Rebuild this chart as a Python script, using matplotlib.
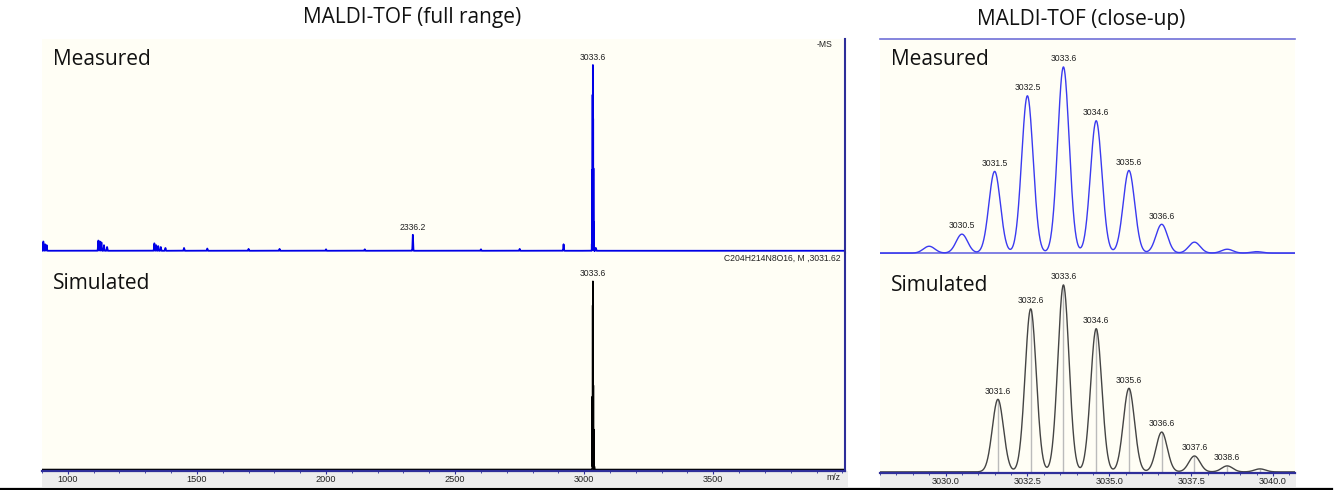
import numpy as np
import matplotlib
matplotlib.use("Agg")
import matplotlib.pyplot as plt
from matplotlib.patches import Rectangle
from matplotlib.lines import Line2D
from matplotlib.ticker import MultipleLocator, FormatStrFormatter

# ---------------- data ----------------
# isotope cluster, measured (m/z, relative intensity %)
meas_mz = [3029.5, 3030.5, 3031.5, 3032.5, 3033.6, 3034.6, 3035.6, 3036.6, 3037.6, 3038.6, 3039.5]
meas_int = [3.7, 10.2, 43.9, 84.5, 100.0, 71.1, 44.4, 15.5, 5.9, 2.1, 0.8]
meas_labels = ["", "3030.5", "3031.5", "3032.5", "3033.6", "3034.6", "3035.6", "3036.6", "", "", ""]

# isotope cluster, simulated
sim_mz = [3031.6, 3032.6, 3033.6, 3034.6, 3035.6, 3036.6, 3037.6, 3038.6, 3039.6]
sim_int = [38.8, 87.2, 100.0, 76.6, 44.7, 21.3, 8.5, 3.2, 1.6]
sim_labels = ["3031.6", "3032.6", "3033.6", "3034.6", "3035.6", "3036.6", "3037.6", "3038.6", ""]

# other measured peaks over the full range
bg_mz = [905, 912, 918, 1118, 1124, 1130, 1140, 1152, 1335, 1342, 1350, 1360, 1378, 1450, 1540,
         1700, 1820, 2000, 2150, 2336.2, 2600, 2750, 2920, 3045]
bg_int = [5.0, 3.5, 3.0, 5.5, 5.0, 4.5, 3.0, 2.0, 4.0, 3.0, 2.5, 2.0, 1.5, 1.5, 1.2,
          1.0, 1.0, 0.8, 0.8, 8.6, 0.8, 1.0, 3.5, 1.5]

full_ticks = [1000, 1500, 2000, 2500, 3000, 3500]
close_ticks = [3030.0, 3032.5, 3035.0, 3037.5, 3040.0]

# ---------------- helpers ----------------
W, H = 1343, 490
BG = "#FFFEF5"
NAVY = "#2E2E9A"
BLUE = "#0000E6"
LBLUE = "#3A3AF0"
GRAYBAND = "#EDEDED"


def profile(x, centers, heights, sigma):
    y = np.zeros_like(x)
    for c, h in zip(centers, heights):
        y += h * np.exp(-0.5 * ((x - c) / sigma) ** 2)
    return y


def ax_px(fig, x0, y0, x1, y1):
    return fig.add_axes([x0 / W, 1 - y1 / H, (x1 - x0) / W, (y1 - y0) / H])


fig = plt.figure(figsize=(W / 100, H / 100), dpi=100)
fig.patch.set_facecolor("white")

TITLE_FONT = dict(family="Open Sans", fontsize=15, color="#111111")
LABEL_FONT = dict(family="Open Sans", fontsize=15, color="#111111")
SMALL = dict(family="Liberation Sans", fontsize=6.2, color="#222222")

# gray tick bands and bottom black rule (figure level, drawn beneath the axes)
fig.patches.append(Rectangle((42 / W, 1 - 487 / H), (848 - 42) / W, 16 / H,
                             transform=fig.transFigure, facecolor=GRAYBAND, edgecolor="none", zorder=-5))
fig.patches.append(Rectangle((880 / W, 1 - 487 / H), (1296 - 880) / W, 14 / H,
                             transform=fig.transFigure, facecolor=GRAYBAND, edgecolor="none", zorder=-5))
fig.lines.append(Line2D([0, 1332 / W], [1 - 488.5 / H, 1 - 488.5 / H], transform=fig.transFigure,
                        color="black", lw=1.6, zorder=-4))

# ---------------- full range ----------------
xf = np.arange(900.0, 4012.0, 0.04)
yf_meas = profile(xf, meas_mz, meas_int, 0.18) + profile(xf, bg_mz, bg_int, 1.0)
yf_sim = profile(xf, sim_mz, sim_int, 0.17)

ax1 = ax_px(fig, 42, 39, 845, 253)
ax2 = ax_px(fig, 42, 253, 845, 471)
for ax in (ax1, ax2):
    ax.set_facecolor(BG)
    ax.set_xlim(900, 4010)
    for s in ("top", "left"):
        ax.spines[s].set_visible(False)
    ax.spines["right"].set_color(NAVY)
    ax.spines["right"].set_linewidth(1.5)
    ax.set_yticks([])

ax1.plot(xf, yf_meas, color=BLUE, lw=1.3)
ax1.set_ylim(-1.2, 114)
ax1.spines["bottom"].set_visible(False)
ax1.set_xticks([])
ax1.text(3033.6, 100 + 1.5, "3033.6", ha="center", va="bottom", **SMALL)
ax1.text(2336.2, 8.6 + 1.5, "2336.2", ha="center", va="bottom", **SMALL)
ax1.text(0.985, 0.995, "-MS", transform=ax1.transAxes, ha="right", va="top", **SMALL)
ax1.text(0.014, 0.905, "Measured", transform=ax1.transAxes, ha="left", va="center", **LABEL_FONT)

ax2.plot(xf, yf_sim, color="black", lw=1.1)
ax2.set_ylim(-0.8, 115)
ax2.spines["bottom"].set_color(NAVY)
ax2.spines["bottom"].set_linewidth(1.6)
ax2.set_xticks(full_ticks)
ax2.xaxis.set_minor_locator(MultipleLocator(100))
ax2.tick_params(axis="x", which="both", direction="out", length=2, color=NAVY, pad=0.8,
                labelsize=6.6, labelcolor="#222222")
ax2.tick_params(axis="x", which="minor", length=1.5)
for lab in ax2.get_xticklabels():
    lab.set_family("Liberation Sans")
ax2.text(3033.6, 100 + 1.5, "3033.6", ha="center", va="bottom", **SMALL)
ax2.text(0.995, 0.995, "C204H214N8O16, M ,3031.62", transform=ax2.transAxes,
         ha="right", va="top", **SMALL)
ax2.text(0.014, 0.862, "Simulated", transform=ax2.transAxes, ha="left", va="center", **LABEL_FONT)
ax2.text(0.986, -0.01, "m/z", transform=ax2.transAxes, ha="center", va="top", **SMALL)

fig.text(412 / W, 1 - 18 / H, "MALDI-TOF (full range)", ha="center", va="center", **TITLE_FONT)

# ---------------- close-up ----------------
xc = np.arange(3028.0, 3040.7, 0.01)
yc_meas = profile(xc, meas_mz, meas_int, 0.175)
yc_sim = profile(xc, sim_mz, sim_int, 0.17)

ax3 = ax_px(fig, 880, 39, 1295, 255)
ax4 = ax_px(fig, 880, 255, 1295, 473)
for ax in (ax3, ax4):
    ax.set_facecolor(BG)
    ax.set_xlim(3028.0, 3040.67)
    for s in ("left", "right"):
        ax.spines[s].set_visible(False)
    ax.set_yticks([])

ax3.plot(xc, yc_meas, color=LBLUE, lw=1.0)
ax3.axhline(0, color="#6A6AE0", lw=1.2, zorder=1)
ax3.set_ylim(-1.0, 115)
ax3.spines["top"].set_color("#7070D8")
ax3.spines["top"].set_linewidth(1.2)
ax3.spines["bottom"].set_visible(False)
ax3.set_xticks([])
for m, v, lab in zip(meas_mz, meas_int, meas_labels):
    if lab:
        ax3.text(m, v + 2.0, lab, ha="center", va="bottom", **SMALL)
ax3.text(0.027, 0.903, "Measured", transform=ax3.transAxes, ha="left", va="center", **LABEL_FONT)

ax4.vlines(sim_mz, 0, sim_int, color="#BBBBBB", lw=1.0, zorder=1)
ax4.plot(xc, yc_sim, color="#444444", lw=1.0, zorder=2)
ax4.set_ylim(-0.6, 116)
ax4.spines["top"].set_visible(False)
ax4.spines["bottom"].set_color(NAVY)
ax4.spines["bottom"].set_linewidth(1.6)
ax4.set_xticks(close_ticks)
ax4.xaxis.set_major_formatter(FormatStrFormatter("%.1f"))
ax4.xaxis.set_minor_locator(MultipleLocator(0.5))
ax4.tick_params(axis="x", which="both", direction="out", length=2, color=NAVY, pad=0.8,
                labelsize=6.6, labelcolor="#222222")
ax4.tick_params(axis="x", which="minor", length=1.5)
for lab in ax4.get_xticklabels():
    lab.set_family("Liberation Sans")
for m, v, lab in zip(sim_mz, sim_int, sim_labels):
    if lab:
        ax4.text(m, v + 2.0, lab, ha="center", va="bottom", **SMALL)
ax4.text(0.027, 0.862, "Simulated", transform=ax4.transAxes, ha="left", va="center", **LABEL_FONT)

fig.text(1081 / W, 1 - 19 / H, "MALDI-TOF (close-up)", ha="center", va="center", **TITLE_FONT)

fig.savefig("out.png", dpi=100, facecolor="white")
